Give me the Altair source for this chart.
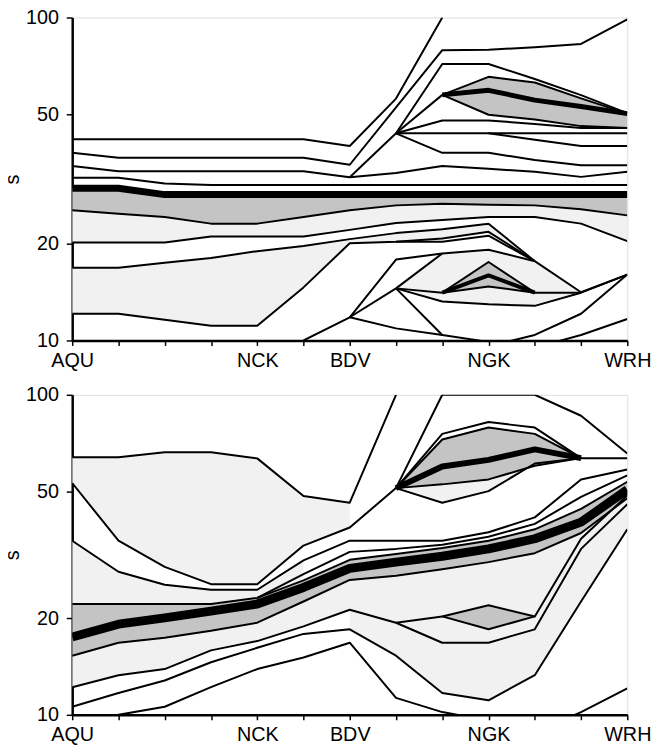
import json
import altair as alt
import pandas as pd

N = None
stations = ["AQU", "", "", "", "NCK", "", "BDV", "", "", "NGK", "", "", "WRH"]
y_ticks = [10, 20, 50, 100]

# ---------------- top panel: lines (value at each of 13 stations) ----------------
t_L1 = [42.0, 42.0, 42.0, 42.0, 42.0, 42.0, 40.0, 56.1, 100, N, N, N, N]
t_L2 = [38.1, 36.8, 36.8, 36.8, 36.8, 36.8, 35.0, 52.7, 79.2, 79.5, 80.9, 82.8, 98.6]
t_L3 = [34.7, 33.4, 33.4, 33.4, 33.4, 33.4, 32.0, 33.0, 34.7, 34.0, 33.3, 32.1, 33.3]
t_L3b = [N, N, N, N, N, N, 32.0, 43.8, N, N, N, N, N]
t_L5 = [31.9, 31.9, 30.6, 30.3, 30.3, 30.3, 30.3, 30.3, 30.3, 30.3, 30.3, 30.3, 30.3]
t_black = [29.6, 29.6, 28.3, 28.3, 28.3, 28.3, 28.3, 28.3, 28.3, 28.3, 28.3, 28.3, 28.3]
t_S1 = [25.3, 24.7, 24.1, 23.0, 23.0, 24.1, 25.3, 26.2, 26.5, 26.3, 26.2, 25.5, 24.4]
t_S2 = [20.1, 20.1, 20.1, 21.0, 21.0, 21.0, 22.0, 23.1, 23.6, 24.1, 24.1, 23.0, 20.3]
t_S3 = [16.8, 16.8, 17.4, 18.0, 18.9, 19.6, 20.6, 21.5, 22.1, 23.0, 17.6, 14.1, 16.0]
t_S4 = [12.1, 12.1, 11.6, 11.1, 11.1, 14.6, 20.0, 20.2, 20.7, 21.7, 17.6, N, N]
t_S4b = [N, N, N, N, N, N, N, 20.2, 20.2, 21.1, 17.6, N, N]
t_S5 = [N, N, N, N, N, 10.0, 11.8, 17.8, 18.6, 19.1, 17.6, N, N]
t_Rin = [N, N, N, N, N, N, 11.8, 14.5, N, N, N, N, N]
t_hullup = [N, N, N, N, N, N, N, 14.5, 18.6, N, N, N, N]
t_hullhi = [N, N, N, N, N, N, N, 14.5, 18.6, 19.1, 17.6, 14.06, N]
t_toL = [N, N, N, N, N, N, N, 14.5, 14.06, N, N, N, N]
t_dTop = [N, N, N, N, N, N, N, N, 14.06, 17.5, 14.06, 14.06, N]
t_dBlk = [N, N, N, N, N, N, N, N, 14.06, 15.9, 14.06, N, N]
t_dBot = [N, N, N, N, N, N, N, N, 14.06, 14.7, 14.06, N, N]
t_hullLo = [N, N, N, N, N, N, N, 14.5, 13.2, 12.95, 12.8, 14.06, 16.0]
t_Rdown = [N, N, N, N, N, N, N, 14.5, 10.4, 9.9, N, N, N]
t_Vdown = [N, N, N, N, N, N, 11.8, 10.9, 10.4, N, N, N, N]
t_R8 = [N, N, N, N, N, N, N, N, N, 9.6, 10.4, 12.1, 16.0]
t_R9 = [N, N, N, N, N, N, N, N, N, N, 9.5, 10.4, 11.65]
t_P4 = [N, N, N, N, N, N, N, 43.8, 71.8, 71.8, 64.5, 57.5, 50.6]
t_PQ = [N, N, N, N, N, N, N, 43.8, 57.6, N, N, N, N]
t_bTop = [N, N, N, N, N, N, N, N, 57.6, 65.5, 62.9, 56.2, 50.4]
t_bBlk = [N, N, N, N, N, N, N, N, 57.6, 59.5, 55.5, 53.0, 50.4]
t_bBot = [N, N, N, N, N, N, N, N, 57.6, 50.0, 48.3, 46.1, 45.5]
t_Pc = [N, N, N, N, N, N, N, 43.8, 48.0, 48.0, 46.8, 45.5, 45.5]
t_Ph = [N, N, N, N, N, N, N, 43.8, 43.8, 43.8, 43.8, 43.8, 43.8]
t_Pbr = [N, N, N, N, N, N, N, N, N, 43.8, 41.8, 40.0, 40.0]
t_Pd = [N, N, N, N, N, N, N, 43.8, 38.1, 38.1, 36.2, 34.9, 34.9]

# ---------------- bottom panel ----------------
b_B1 = [63.8, 63.8, 66.1, 66.1, 63.3, 48.3, 46.0, 100, N, N, N, N, N]
b_B2 = [53.0, 35.0, 29.0, 25.6, 25.6, 33.8, 38.5, 51.1, 100, 100, 100, 86.0, 65.6]
b_B3 = [35.0, 28.0, 25.5, 24.6, 24.6, 30.4, 35.0, 35.0, 35.0, 37.2, 41.4, 54.4, 58.4]
b_UBout = [N, N, N, N, N, N, N, 51.1, 75.5, 82.2, 79.0, 63.4, N]
b_UBtop = [N, N, N, N, N, N, N, 51.1, 72.5, 79.0, 75.5, 63.4, N]
b_UBblk = [N, N, N, N, N, N, N, 51.1, 59.7, 62.6, 67.5, 63.4, N]
b_UBbot = [N, N, N, N, N, N, N, 51.1, 52.5, 54.4, 60.0, 63.4, N]
b_UBlow = [N, N, N, N, N, N, N, 51.1, 46.0, 50.0, 61.0, 63.4, 63.4]
b_Ftop = [22.2, 22.2, 22.2, 22.2, 23.2, 26.3, 30.5, 31.8, 33.2, 35.0, 38.0, 44.0, 53.5]
b_F2 = [N, N, N, N, 23.2, 27.5, 32.3, 33.0, 34.0, 36.0, 39.5, 48.0, 56.0]
b_black = [17.5, 19.2, 20.1, 21.1, 22.2, 25.0, 28.7, 30.0, 31.3, 33.0, 35.5, 40.0, 50.5]
b_Fbot = [15.3, 16.8, 17.4, 18.3, 19.4, 22.6, 26.4, 27.2, 28.5, 30.0, 32.0, 37.0, 47.5]
b_BA = [12.2, 13.3, 13.9, 15.9, 17.0, 18.9, 21.3, 19.4, 16.8, 16.8, 18.5, 33.0, 45.5]
b_toD = [N, N, N, N, N, N, N, 19.4, 20.3, N, N, N, N]
b_Dtop = [N, N, N, N, N, N, N, N, 20.3, 22.0, 20.3, 35.5, 48.5]
b_Dbot = [N, N, N, N, N, N, N, N, 20.3, 18.5, 20.3, N, N]
b_BC = [10.6, 11.7, 12.8, 14.6, 16.2, 17.9, 18.5, 15.3, 11.7, 11.1, 13.3, 22.6, 38.0]
b_BD = [9.3, 10.0, 10.6, 12.2, 13.9, 15.1, 16.8, 11.3, 10.2, 9.6, N, N, N]
b_BE = [N, N, N, N, N, N, N, N, N, N, 8.8, 10.2, 12.1]

DARK = "#c4c4c4"
LIGHT = "#f1f1f1"

top_lines = [
    ("L1", t_L1, 2), ("L2", t_L2, 2), ("L3", t_L3, 2), ("L3b", t_L3b, 2),
    ("L5", t_L5, 2), ("S1", t_S1, 2), ("S2", t_S2, 2), ("S3", t_S3, 2),
    ("S4", t_S4, 2), ("S4b", t_S4b, 2), ("S5", t_S5, 2), ("Rin", t_Rin, 2),
    ("hullup", t_hullup, 2), ("toL", t_toL, 2), ("dTop", t_dTop, 2),
    ("dBot", t_dBot, 2), ("hullLo", t_hullLo, 2), ("Rdown", t_Rdown, 2),
    ("Vdown", t_Vdown, 2), ("R8", t_R8, 2), ("R9", t_R9, 2), ("P4", t_P4, 2),
    ("PQ", t_PQ, 2), ("bTop", t_bTop, 2), ("bBot", t_bBot, 2), ("Pc", t_Pc, 2),
    ("Ph", t_Ph, 2), ("Pbr", t_Pbr, 2), ("Pd", t_Pd, 2),
    ("black", t_black, 7), ("bBlk", t_bBlk, 5), ("dBlk", t_dBlk, 4),
]
top_bands = [
    (t_S2, t_S1, LIGHT, 0, 12), (t_S4, t_S3, LIGHT, 0, 10),
    (t_hullLo, t_hullhi, LIGHT, 7, 11),
    (t_S1, t_black, DARK, 0, 12), (t_bBot, t_bTop, DARK, 8, 12),
    (t_dBot, t_dTop, DARK, 8, 10),
]
bot_lines = [
    ("B1", b_B1, 2), ("B2", b_B2, 2), ("B3", b_B3, 2), ("UBout", b_UBout, 2),
    ("UBtop", b_UBtop, 2), ("UBbot", b_UBbot, 2), ("UBlow", b_UBlow, 2),
    ("Ftop", b_Ftop, 2), ("F2", b_F2, 2), ("Fbot", b_Fbot, 2), ("BA", b_BA, 2),
    ("toD", b_toD, 2), ("Dtop", b_Dtop, 2), ("Dbot", b_Dbot, 2), ("BC", b_BC, 2),
    ("BD", b_BD, 2), ("BE", b_BE, 2),
    ("black", b_black, 9), ("UBblk", b_UBblk, 6),
]
bot_bands = [
    (b_B2, b_B1, LIGHT, 0, 6), (b_Ftop, b_B3, LIGHT, 0, 5), (b_BA, b_Fbot, LIGHT, 0, 12),
    (b_BC, b_BA, LIGHT, 6, 12), (b_UBlow, b_UBbot, LIGHT, 7, 11),
    (b_Fbot, b_Ftop, DARK, 0, 12), (b_UBbot, b_UBtop, DARK, 7, 11),
    (b_Dbot, b_Dtop, DARK, 8, 10),
]


def line_frame(lines):
    rows = []
    for name, vals, w in lines:
        for i, v in enumerate(vals):
            if v is not None:
                rows.append({"line": name, "i": i, "s": v, "w": w})
    return pd.DataFrame(rows)


def band_frame(bands):
    rows = []
    for k, (lo, hi, color, a, b) in enumerate(bands):
        for i in range(a, b + 1):
            if lo[i] is not None and hi[i] is not None:
                rows.append({"band": k, "i": i, "lo": lo[i], "hi": hi[i], "fill": color})
    return pd.DataFrame(rows)


label_expr = json.dumps(stations) + "[datum.value]"
FONT = "Liberation Sans"
FS = 20


def xenc():
    return alt.X("i:Q", scale=alt.Scale(domain=[0, 12], nice=False, zero=False),
                 axis=alt.Axis(values=list(range(13)), labelExpr=label_expr, title=None,
                               grid=False, domainColor="black", domainWidth=2.5,
                               tickColor="black", tickWidth=1.5, tickSize=5,
                               labelFont=FONT, labelFontSize=FS, labelColor="black",
                               labelPadding=5, labelOverlap=False, labelFlush=False))


def yscale():
    return alt.Scale(type="log", domain=[10, 100], nice=False)


def yaxis():
    return alt.Axis(values=y_ticks, title="s", grid=False, domainColor="black",
                    domainWidth=2.5, tickColor="black", tickWidth=1.5, tickSize=6,
                    labelFont=FONT, labelFontSize=FS, labelColor="black", labelPadding=8,
                    titleFont=FONT, titleFontSize=FS, titleFontWeight="normal",
                    titleColor="black", titlePadding=3, labelFlush=False)


def panel(lines, bands, h):
    areas = alt.Chart(band_frame(bands)).mark_area(clip=True, opacity=1).encode(
        x=xenc(),
        y=alt.Y("lo:Q", scale=yscale(), axis=yaxis()),
        y2="hi:Q",
        color=alt.Color("fill:N", scale=None),
        detail="band:N",
    )
    ls = alt.Chart(line_frame(lines)).mark_line(clip=True, color="black",
                                                strokeJoin="round", strokeCap="butt").encode(
        x=xenc(),
        y=alt.Y("s:Q", scale=yscale(), axis=yaxis()),
        strokeWidth=alt.StrokeWidth("w:Q", scale=None),
        detail="line:N",
    )
    return alt.layer(areas, ls).properties(width=562, height=h)


top = panel(top_lines, top_bands, 327)
bottom = panel(bot_lines, bot_bands, 324)

chart = alt.vconcat(top, bottom, spacing=55, bounds="flush").properties(
    padding={"left": -6, "top": -6, "right": 0, "bottom": 0}
).configure_view(stroke="black", strokeWidth=1.5).configure(background="white")

chart.save("out.html", embed_options={"renderer": "svg", "actions": False})
